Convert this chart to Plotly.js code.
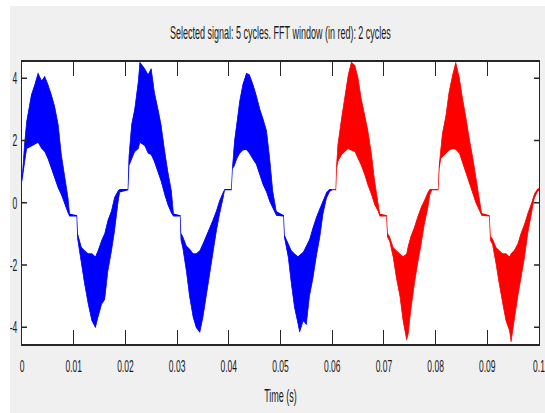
<!DOCTYPE html>
<html>
<head>
<meta charset="utf-8">
<script src="https://cdn.plot.ly/plotly-3.0.1.min.js"></script>
<style>
  html, body { margin: 0; padding: 0; background: #ffffff; overflow: hidden; width: 545px; height: 413px; }
  #wrap { position: absolute; left: 10px; top: 6px; width: 535px; height: 407px; overflow: hidden; background: #f0f0f0; }
  #chart { width: 1070px; height: 407px; transform: scaleX(0.5); transform-origin: 0 0; }
</style>
</head>
<body>
<div id="wrap"><div id="chart"></div></div>
<script>
// ---- Data (time in ms, envelope values of the signal) ----
const chartTitle = "Selected signal: 5 cycles. FFT window (in red): 2 cycles";
const xAxisTitle = "Time (s)";

// Blue part: selected signal outside FFT window (0 - 60 ms)
const blueTimeMs = [0, 0.5, 0.9, 1.8, 2.5, 3.1, 3.8, 4.4, 5.0, 5.7, 6.3, 7.0, 7.6, 8.3, 8.9, 9.2, 10.6, 10.75,
  11.5, 12.1, 12.8, 13.5, 14.2, 14.7, 15.4, 16.0, 16.6, 17.3, 17.9, 18.6, 18.9, 20.5, 20.7,
  21.2, 21.8, 22.5, 22.8, 23.7, 24.4, 25.0, 25.6, 26.3, 26.9, 27.6, 28.2, 28.9, 29.3, 30.6, 30.75,
  31.1, 31.8, 32.4, 33.1, 33.7, 34.4, 35.0, 35.6, 36.3, 36.9, 37.6, 38.2, 38.9, 39.2, 40.5, 40.7,
  41.1, 41.5, 42.1, 42.7, 43.4, 44.0, 44.7, 45.3, 46.0, 46.6, 47.3, 47.9, 48.5, 49.2, 50.6, 50.75,
  51.5, 52.1, 52.7, 53.4, 53.7, 54.4, 55.0, 55.6, 56.3, 56.9, 57.6, 58.2, 58.9, 59.5, 60.0];
const blueUpper = [0.7, 1.9, 2.6, 3.45, 3.8, 4.15, 3.9, 4.05, 3.8, 3.45, 3.1, 2.5, 1.55, 0.8, 0.15, -0.37, -0.42, -1.0,
  -1.45, -1.55, -1.65, -1.65, -1.75, -1.55, -1.22, -1.0, -0.58, -0.27, 0.16, 0.37, 0.42, 0.42, 1.5,
  2.5, 3.0, 3.9, 4.5, 4.3, 4.1, 4.3, 3.55, 3.0, 2.5, 1.65, 1.0, 0.37, -0.37, -0.42, -1.0,
  -1.1, -1.4, -1.5, -1.65, -1.65, -1.55, -1.33, -1.1, -0.8, -0.58, -0.27, 0.05, 0.32, 0.42, 0.42, 1.1,
  1.97, 2.5, 3.25, 3.78, 4.15, 4.1, 3.78, 3.45, 3.0, 2.7, 2.3, 1.43, 0.37, -0.3, -0.42, -1.05,
  -1.33, -1.55, -1.65, -1.75, -1.7, -1.6, -1.4, -1.2, -0.8, -0.5, -0.2, 0.05, 0.32, 0.42, 0.42];
const blueLower = [0.7, 1.3, 1.75, 1.85, 1.9, 1.95, 1.75, 1.65, 1.43, 1.1, 0.8, 0.48, 0.27, -0.05, -0.32, -0.42, -0.42, -1.15,
  -1.97, -2.6, -3.25, -3.78, -4.0, -3.67, -3.25, -3.1, -2.2, -1.55, -0.9, 0.05, 0.35, 0.42, 1.2,
  1.4, 1.65, 1.75, 1.95, 1.85, 1.6, 1.55, 1.33, 1.0, 0.7, 0.27, -0.05, -0.32, -0.42, -0.42, -1.2,
  -1.45, -2.2, -3.0, -3.67, -4.0, -4.15, -3.67, -3.0, -2.3, -1.65, -0.9, -0.37, 0.16, 0.42, 0.42, 1.1,
  1.2, 1.4, 1.6, 1.7, 1.72, 1.6, 1.4, 1.25, 0.9, 0.6, 0.35, 0.05, -0.15, -0.4, -0.42, -1.1,
  -1.75, -2.6, -3.35, -3.9, -4.15, -3.78, -3.9, -3.0, -2.4, -1.75, -1.1, -0.37, 0.16, 0.37, 0.42];

// Red part: FFT window (60 - 100 ms)
const redTimeMs = [60.0, 60.7, 60.85, 61.1, 61.8, 62.4, 63.1, 63.7, 64.4, 65.0, 65.6, 66.3, 66.9, 67.6, 68.2, 68.9, 69.2, 70.5, 70.7,
  71.1, 71.8, 72.4, 73.1, 73.7, 74.4, 74.7, 75.2, 75.9, 76.5, 77.2, 77.8, 78.5, 78.9, 79.3, 80.5, 80.7,
  81.0, 81.3, 82.0, 82.6, 83.3, 83.9, 84.6, 85.2, 85.9, 86.5, 87.2, 87.8, 88.5, 88.9, 90.4, 90.6,
  91.0, 91.7, 92.3, 93.0, 93.6, 94.3, 94.6, 95.2, 95.9, 96.5, 97.2, 97.8, 98.5, 99.1, 99.7, 100.0];
const redUpper = [0.42, 0.42, 1.2, 1.86, 2.7, 3.35, 4.1, 4.5, 4.4, 4.0, 3.35, 2.8, 2.3, 1.55, 0.7, -0.05, -0.37, -0.42, -1.0,
  -1.1, -1.45, -1.55, -1.65, -1.75, -1.65, -1.4, -1.1, -0.8, -0.48, -0.16, 0.05, 0.32, 0.42, 0.42, 0.42, 1.2,
  1.65, 2.2, 2.8, 3.55, 4.1, 4.5, 4.0, 3.35, 2.7, 2.07, 1.43, 0.8, 0.05, -0.35, -0.42, -1.1,
  -1.17, -1.45, -1.55, -1.65, -1.65, -1.75, -1.65, -1.55, -1.33, -1.0, -0.7, -0.37, -0.05, 0.27, 0.42, 0.45];
const redLower = [0.42, 0.42, 1.1, 1.33, 1.55, 1.65, 1.75, 1.7, 1.65, 1.43, 1.22, 0.9, 0.58, 0.27, -0.05, -0.27, -0.42, -0.42, -1.1,
  -1.22, -1.75, -2.4, -3.0, -3.78, -4.4, -4.2, -3.45, -2.6, -1.97, -1.33, -0.7, -0.16, 0.27, 0.42, 0.42, 1.1,
  1.43, 1.5, 1.6, 1.7, 1.75, 1.72, 1.6, 1.3, 0.95, 0.65, 0.3, 0.0, -0.25, -0.4, -0.42, -1.2,
  -1.33, -1.97, -2.6, -3.25, -3.78, -4.1, -4.47, -3.78, -3.0, -2.4, -1.75, -1.0, -0.37, 0.16, 0.37, 0.42];

const xTickVals = [0, 0.01, 0.02, 0.03, 0.04, 0.05, 0.06, 0.07, 0.08, 0.09, 0.1];
const xTickText = ["0", "0.01", "0.02", "0.03", "0.04", "0.05", "0.06", "0.07", "0.08", "0.09", "0.1"];
const yTickVals = [-4, -2, 0, 2, 4];
const yTickText = ["-4", "-2", "0", "2", "4"];

// ---- Build band traces (envelope polygons) ----
function band(timeMs, upper, lower, color, name) {
  const t = timeMs.map(v => v / 1000);
  return {
    type: "scatter",
    mode: "lines",
    name: name,
    x: t.concat(t.slice().reverse()),
    y: upper.concat(lower.slice().reverse()),
    fill: "toself",
    fillcolor: color,
    line: { color: color, width: 1.4 },
    hoverinfo: "skip",
    showlegend: false
  };
}

const traces = [
  band(blueTimeMs, blueUpper, blueLower, "#0000ff", "Selected signal"),
  band(redTimeMs, redUpper, redLower, "#ff0000", "FFT window")
];

const S = 0.5;
const fontFam = "Liberation Sans, Arial, sans-serif";
const axisColor = "#262626";

const layout = {
  width: 1070,
  height: 407,
  paper_bgcolor: "#f0f0f0",
  plot_bgcolor: "#ffffff",
  margin: { l: 12 / S, r: 6 / S, t: 56, b: 69, pad: 0 },
  showlegend: false,
  title: {
    text: chartTitle,
    x: 0.5, xref: "paper", xanchor: "center",
    y: 1 - 27 / 407, yref: "container", yanchor: "middle",
    font: { family: fontFam, size: 18, color: "#1a1a1a" }
  },
  xaxis: {
    range: [0, 0.1],
    tickmode: "array", tickvals: xTickVals, ticktext: xTickText,
    ticks: "inside", ticklen: 14, tickwidth: 1 / S, tickcolor: axisColor,
    showline: true, linecolor: axisColor, linewidth: 2, mirror: "ticks",
    showgrid: false, zeroline: false,
    tickfont: { family: fontFam, size: 17, color: "#1a1a1a" },
    ticklabelstandoff: 6,
    title: { text: xAxisTitle, font: { family: fontFam, size: 18, color: "#1a1a1a" }, standoff: 14 }
  },
  yaxis: {
    range: [-4.54, 4.52],
    tickmode: "array", tickvals: yTickVals, ticktext: yTickText,
    ticks: "inside", ticklen: 5 / S, tickwidth: 1.5, tickcolor: axisColor,
    showline: true, linecolor: axisColor, linewidth: 1 / S, mirror: "ticks",
    showgrid: false, zeroline: false,
    tickfont: { family: fontFam, size: 17, color: "#1a1a1a" },
    ticklabelstandoff: 4
  }
};

Plotly.newPlot("chart", traces, layout, { staticPlot: true, displayModeBar: false });
</script>
</body>
</html>
